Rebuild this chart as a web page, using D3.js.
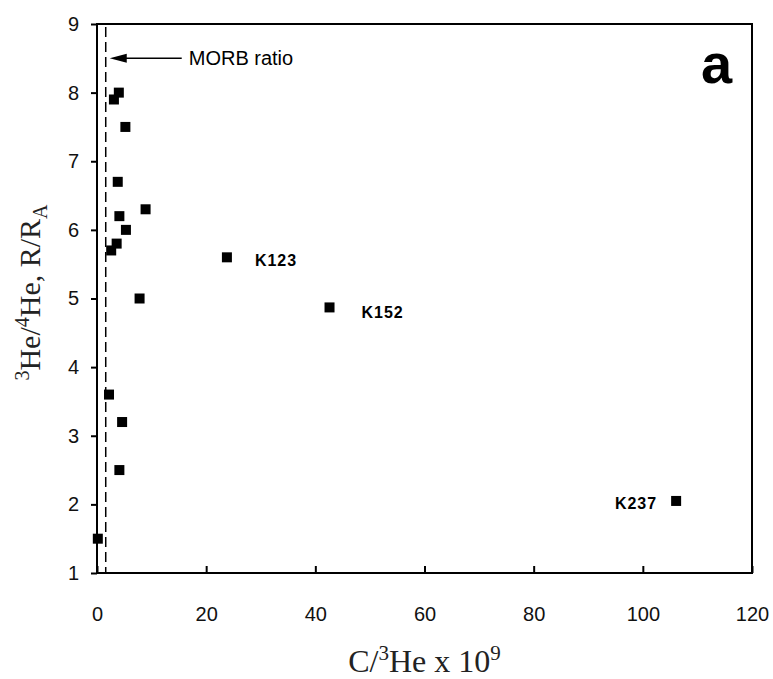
<!DOCTYPE html>
<html>
<head>
<meta charset="utf-8">
<script src="https://cdn.jsdelivr.net/npm/d3@7"></script>
<style>
  body { margin: 0; background: #fff; }
  svg { display: block; }
</style>
</head>
<body>
<svg id="chart"></svg>
<script>
// C/3He (x 10^9) vs 3He/4He (R/RA)
const cVals  = [0.15, 2.2, 4.6, 4.1, 7.8, 2.6, 3.6, 5.3, 4.1, 8.9, 3.8, 5.2, 3.1, 4.0, 23.8, 42.6, 106.1];
const rVals  = [1.5, 3.6, 3.2, 2.5, 5.0, 5.7, 5.8, 6.0, 6.2, 6.3, 6.7, 7.5, 7.9, 8.0, 5.6, 4.87, 2.05];
const sampleNames = ["", "", "", "", "", "", "", "", "", "", "", "", "", "", "K123", "K152", "K237"];
const xTicks = [0, 20, 40, 60, 80, 100, 120];
const yTicks = [1, 2, 3, 4, 5, 6, 7, 8, 9];
const morbRatio = 1.6;
const morbArrowY = 8.5;

const width = 773, height = 679;
const margin = { top: 24, right: 21, bottom: 106, left: 97 };
const innerW = width - margin.left - margin.right;
const innerH = height - margin.top - margin.bottom;

const points = cVals.map((c, i) => ({ c, r: rVals[i], name: sampleNames[i] }));

const svg = d3.select("#chart").attr("width", width).attr("height", height);
const chart = svg.append("g").attr("transform", `translate(${margin.left},${margin.top})`);

const x = d3.scaleLinear().domain([0, 120]).range([0, innerW]);
const y = d3.scaleLinear().domain([1, 9]).range([innerH, 0]);

const sans = "'Liberation Sans', Arial, sans-serif";
const serif = "'Liberation Serif', 'Times New Roman', serif";

// axes
const xAxis = chart.append("g")
  .attr("transform", `translate(0,${innerH})`)
  .call(d3.axisBottom(x).tickValues(xTicks).tickSizeInner(-7).tickSizeOuter(0).tickPadding(34));
const yAxis = chart.append("g")
  .call(d3.axisLeft(y).tickValues(yTicks).tickSizeInner(6).tickSizeOuter(0).tickPadding(12));

[xAxis, yAxis].forEach((g) => {
  g.select(".domain").remove();
  g.selectAll("line").attr("stroke", "#000").attr("stroke-width", 2);
  g.selectAll("text")
    .style("font-family", sans)
    .style("font-size", "20px")
    .style("fill", "#111");
});

// frame
chart.append("rect")
  .attr("x", 0).attr("y", 0)
  .attr("width", innerW).attr("height", innerH)
  .attr("fill", "none")
  .attr("stroke", "#000")
  .attr("stroke-width", 2);

// MORB dashed line
chart.append("line")
  .attr("x1", x(morbRatio)).attr("x2", x(morbRatio))
  .attr("y1", y(9) + 3).attr("y2", y(1))
  .attr("stroke", "#000")
  .attr("stroke-width", 1.5)
  .attr("stroke-dasharray", "10,5");

// arrow + label
const ax = x(morbRatio) + 4, ay = y(morbArrowY);
chart.append("line")
  .attr("x1", ax + 14).attr("x2", ax + 72)
  .attr("y1", ay).attr("y2", ay)
  .attr("stroke", "#000").attr("stroke-width", 1.5);
chart.append("path")
  .attr("d", `M${ax},${ay} L${ax + 17},${ay - 4.5} L${ax + 17},${ay + 4.5} Z`)
  .attr("fill", "#000");
chart.append("text")
  .attr("x", ax + 79).attr("y", ay + 7)
  .style("font-family", sans).style("font-size", "20px")
  .text("MORB ratio");

// points
chart.selectAll("rect.pt")
  .data(points)
  .enter()
  .append("rect")
  .attr("class", "pt")
  .attr("x", (d) => x(d.c) - 5)
  .attr("y", (d) => y(d.r) - 5)
  .attr("width", 10)
  .attr("height", 10)
  .attr("fill", "#000");

// sample labels
const labelOffsets = { K123: [28, 9, "start"], K152: [32, 11, "start"], K237: [-19, 8, "end"] };
chart.selectAll("text.lbl")
  .data(points.filter((d) => d.name))
  .enter()
  .append("text")
  .attr("class", "lbl")
  .attr("x", (d) => x(d.c) + labelOffsets[d.name][0])
  .attr("y", (d) => y(d.r) + labelOffsets[d.name][1])
  .attr("text-anchor", (d) => labelOffsets[d.name][2])
  .style("font-family", sans)
  .style("font-size", "16px")
  .style("font-weight", "bold")
  .style("letter-spacing", "1px")
  .text((d) => d.name);

// panel letter
svg.append("text")
  .attr("x", 701).attr("y", 83)
  .style("font-family", sans)
  .style("font-size", "56px")
  .style("font-weight", "bold")
  .text("a");

// x title
const xt = svg.append("text")
  .attr("x", margin.left + innerW / 2)
  .attr("y", 672)
  .attr("text-anchor", "middle")
  .style("font-family", serif)
  .style("font-size", "32px")
  .style("fill", "#222");
xt.append("tspan").text("C/");
xt.append("tspan").attr("dy", -12).style("font-size", "21px").text("3");
xt.append("tspan").attr("dy", 12).text("He x 10");
xt.append("tspan").attr("dy", -12).style("font-size", "21px").text("9");

// y title
const yt = svg.append("text")
  .attr("transform", `translate(40,${margin.top + innerH / 2 - 6}) rotate(-90)`)
  .attr("text-anchor", "middle")
  .style("font-family", serif)
  .style("font-size", "30px")
  .style("fill", "#222");
yt.append("tspan").attr("dy", -11).style("font-size", "20px").text("3");
yt.append("tspan").attr("dy", 11).text("He/");
yt.append("tspan").attr("dy", -11).style("font-size", "20px").text("4");
yt.append("tspan").attr("dy", 11).text("He, R/R");
yt.append("tspan").attr("dy", 7).style("font-size", "20px").text("A");
</script>
</body>
</html>
